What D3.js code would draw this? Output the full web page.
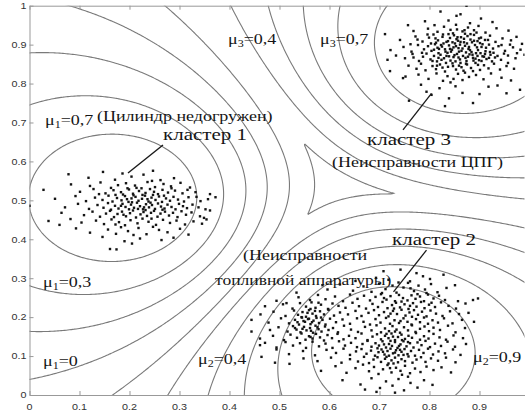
<!DOCTYPE html>
<html><head><meta charset="utf-8">
<script src="https://cdn.jsdelivr.net/npm/d3@7"></script>
<style>body{margin:0;background:#fff}</style>
</head><body>
<svg id="c" width="525" height="414"></svg>
<script>
// ---------- data ----------
const xTickValues=[0,0.1,0.2,0.3,0.4,0.5,0.6,0.7,0.8,0.9];
const xTickLabels=["0","0.1","0.2","0.3","0.4","0.5","0.6","0.7","0.8","0.9"];
const yTickValues=[0,0.1,0.2,0.3,0.4,0.5,0.6,0.7,0.8,0.9,1];
const yTickLabels=["0","0.1","0.2","0.3","0.4","0.5","0.6","0.7","0.8","0.9","1"];
const clusterCenters=[[0.2,0.5],[0.71,0.14],[0.85,0.875]];
const contourLevels=[0.4,0.5,0.6,0.7,0.8,0.9];
const fuzzifier=2;
const clusterNames=["кластер 1","кластер 2","кластер 3"];
const clusterNotes=["(Цилиндр недогружен)","(Неисправности","топливной аппаратуры)","(Неисправности ЦПГ)"];
const muLabels=[["1","=0,7"],["1","=0,3"],["1","=0"],["3","=0,4"],["3","=0,7"],["2","=0,4"],["2","=0,9"]];

const cluster1=[[0.078,0.567],[0.147,0.573],[0.247,0.576],[0.118,0.558],[0.171,0.553],[0.204,0.561],[0.228,0.566],[0.262,0.552],[0.289,0.557],[0.186,0.569],
[0.083,0.541],[0.121,0.537],[0.142,0.546],[0.163,0.532],[0.193,0.544],[0.211,0.538],[0.236,0.547],[0.251,0.534],[0.268,0.542],[0.283,0.536],[0.302,0.545],[0.321,0.533],[0.177,0.539],[0.224,0.531],[0.245,0.55],[0.196,0.531],
[0.028,0.527],[0.101,0.522],[0.128,0.529],[0.152,0.518],[0.168,0.526],[0.183,0.521],[0.199,0.528],[0.207,0.517],[0.219,0.524],[0.232,0.519],[0.241,0.529],[0.257,0.516],[0.266,0.527],[0.277,0.52],[0.291,0.525],[0.306,0.518],[0.316,0.527],[0.332,0.521],[0.361,0.516],[0.187,0.515],[0.226,0.514],[0.249,0.522],[0.284,0.531],[0.139,0.516],[0.214,0.532],
[0.051,0.504],[0.092,0.511],[0.113,0.498],[0.131,0.507],[0.146,0.501],[0.158,0.512],[0.166,0.497],[0.175,0.506],[0.184,0.5],[0.191,0.511],[0.198,0.496],[0.204,0.505],[0.212,0.509],[0.218,0.499],[0.225,0.504],[0.231,0.512],[0.238,0.497],[0.244,0.507],[0.252,0.501],[0.259,0.51],[0.265,0.496],[0.273,0.505],[0.281,0.499],[0.288,0.509],[0.297,0.502],[0.309,0.497],[0.318,0.508],[0.334,0.509],[0.342,0.498],[0.357,0.503],[0.372,0.508],[0.172,0.514],[0.208,0.513],[0.247,0.514],[0.236,0.503],[0.195,0.503],[0.269,0.512],
[0.0,0.486],[0.071,0.482],[0.097,0.491],[0.119,0.478],[0.136,0.488],[0.148,0.481],[0.157,0.493],[0.163,0.476],[0.171,0.486],[0.178,0.479],[0.186,0.491],[0.192,0.483],[0.199,0.477],[0.203,0.489],[0.209,0.481],[0.215,0.494],[0.221,0.485],[0.227,0.477],[0.233,0.49],[0.239,0.482],[0.245,0.488],[0.251,0.478],[0.257,0.492],[0.263,0.484],[0.27,0.479],[0.276,0.489],[0.284,0.483],[0.292,0.477],[0.299,0.491],[0.307,0.485],[0.315,0.48],[0.326,0.489],[0.338,0.482],[0.352,0.477],[0.183,0.486],[0.217,0.478],[0.242,0.494],[0.266,0.476],[0.205,0.495],[0.229,0.482],
[0.064,0.468],[0.109,0.462],[0.126,0.471],[0.141,0.458],[0.153,0.466],[0.161,0.473],[0.169,0.457],[0.176,0.465],[0.185,0.471],[0.193,0.459],[0.201,0.467],[0.207,0.474],[0.213,0.456],[0.222,0.464],[0.228,0.47],[0.235,0.46],[0.243,0.468],[0.249,0.473],[0.256,0.458],[0.262,0.466],[0.271,0.471],[0.279,0.461],[0.287,0.468],[0.296,0.457],[0.304,0.472],[0.313,0.463],[0.324,0.469],[0.341,0.459],[0.349,0.455],[0.361,0.474],[0.188,0.463],[0.232,0.475],
[0.038,0.447],[0.06,0.437],[0.082,0.452],[0.104,0.443],[0.133,0.448],[0.149,0.439],[0.164,0.451],[0.179,0.444],[0.191,0.436],[0.202,0.449],[0.216,0.441],[0.226,0.453],[0.238,0.445],[0.253,0.437],[0.267,0.45],[0.281,0.442],[0.294,0.448],[0.311,0.438],[0.328,0.446],[0.345,0.44],[0.354,0.451],[0.172,0.438],[0.244,0.453],
[0.093,0.428],[0.121,0.417],[0.157,0.425],[0.173,0.414],[0.197,0.421],[0.218,0.429],[0.234,0.413],[0.259,0.424],[0.276,0.418],[0.301,0.427],[0.318,0.412],[0.183,0.431],[0.208,0.411],[0.247,0.432],
[0.161,0.375],[0.174,0.374],[0.19,0.395],[0.221,0.402],[0.264,0.398],[0.146,0.406],[0.288,0.404],[0.205,0.389]];

const cluster2=[[0.774,0.313],[0.787,0.305],[0.718,0.296],[0.742,0.322],[0.693,0.301],[0.761,0.292],[0.801,0.298],[0.652,0.293],[0.828,0.309],[0.708,0.318],
[0.534,0.263],[0.596,0.271],[0.621,0.284],[0.647,0.268],[0.668,0.279],[0.684,0.265],[0.699,0.286],[0.712,0.272],[0.726,0.281],[0.734,0.263],[0.748,0.276],[0.757,0.288],[0.769,0.267],[0.778,0.281],[0.791,0.271],[0.803,0.285],[0.816,0.264],[0.834,0.275],[0.851,0.282],[0.738,0.289],[0.762,0.274],[0.705,0.262],[0.586,0.282],[0.794,0.262],
[0.494,0.242],[0.514,0.236],[0.538,0.251],[0.561,0.244],[0.577,0.257],[0.592,0.246],[0.611,0.253],[0.627,0.241],[0.641,0.258],[0.656,0.247],[0.669,0.255],[0.681,0.243],[0.692,0.252],[0.703,0.259],[0.714,0.245],[0.722,0.254],[0.731,0.241],[0.739,0.257],[0.747,0.249],[0.756,0.243],[0.764,0.256],[0.772,0.247],[0.781,0.253],[0.789,0.241],[0.797,0.258],[0.808,0.248],[0.819,0.255],[0.831,0.244],[0.857,0.241],[0.887,0.244],[0.897,0.248],[0.744,0.24],[0.776,0.259],[0.709,0.249],
[0.471,0.228],[0.507,0.233],[0.526,0.222],[0.541,0.236],[0.553,0.227],[0.564,0.238],[0.572,0.224],[0.583,0.232],[0.597,0.221],[0.606,0.235],[0.618,0.229],[0.632,0.224],[0.646,0.237],[0.659,0.228],[0.673,0.222],[0.686,0.234],[0.697,0.226],[0.706,0.239],[0.716,0.223],[0.725,0.231],[0.733,0.237],[0.741,0.225],[0.75,0.233],[0.758,0.221],[0.767,0.236],[0.774,0.227],[0.783,0.239],[0.79,0.223],[0.799,0.232],[0.811,0.226],[0.823,0.238],[0.838,0.229],[0.853,0.222],[0.872,0.235],[0.562,0.221],[0.578,0.237],[0.761,0.229],[0.729,0.222],[0.804,0.237],
[0.462,0.207],[0.488,0.214],[0.512,0.203],[0.529,0.217],[0.537,0.206],[0.546,0.213],[0.553,0.201],[0.559,0.218],[0.566,0.209],[0.573,0.203],[0.581,0.215],[0.589,0.207],[0.598,0.219],[0.609,0.204],[0.621,0.212],[0.637,0.207],[0.652,0.216],[0.664,0.203],[0.678,0.211],[0.689,0.218],[0.699,0.205],[0.709,0.213],[0.718,0.202],[0.727,0.216],[0.735,0.208],[0.744,0.219],[0.752,0.204],[0.76,0.212],[0.769,0.218],[0.777,0.206],[0.785,0.214],[0.794,0.202],[0.802,0.217],[0.813,0.209],[0.826,0.203],[0.841,0.215],[0.859,0.208],[0.878,0.211],[0.556,0.211],[0.571,0.216],[0.544,0.2],[0.765,0.201],[0.722,0.209],
[0.444,0.193],[0.478,0.186],[0.503,0.197],[0.519,0.184],[0.531,0.193],[0.539,0.181],[0.545,0.199],[0.551,0.188],[0.557,0.195],[0.562,0.182],[0.568,0.191],[0.574,0.198],[0.579,0.185],[0.586,0.193],[0.592,0.181],[0.601,0.196],[0.613,0.187],[0.626,0.194],[0.641,0.183],[0.655,0.197],[0.668,0.188],[0.681,0.181],[0.692,0.195],[0.702,0.186],[0.713,0.198],[0.721,0.183],[0.73,0.192],[0.739,0.185],[0.748,0.197],[0.756,0.188],[0.764,0.181],[0.773,0.195],[0.781,0.187],[0.789,0.199],[0.797,0.183],[0.806,0.192],[0.817,0.186],[0.829,0.197],[0.846,0.184],[0.865,0.193],[0.889,0.188],[0.548,0.19],[0.565,0.187],[0.583,0.199],[0.559,0.196],[0.536,0.187],[0.742,0.19],
[0.444,0.163],[0.481,0.167],[0.498,0.174],[0.516,0.163],[0.527,0.177],[0.534,0.168],[0.542,0.161],[0.549,0.175],[0.554,0.166],[0.561,0.172],[0.567,0.16],[0.572,0.178],[0.578,0.169],[0.584,0.163],[0.591,0.176],[0.598,0.167],[0.607,0.172],[0.617,0.161],[0.629,0.178],[0.643,0.168],[0.657,0.162],[0.671,0.175],[0.684,0.166],[0.694,0.179],[0.703,0.161],[0.711,0.171],[0.719,0.164],[0.726,0.177],[0.734,0.168],[0.741,0.16],[0.749,0.174],[0.757,0.166],[0.765,0.179],[0.772,0.162],[0.781,0.17],[0.79,0.176],[0.799,0.164],[0.808,0.173],[0.821,0.167],[0.837,0.178],[0.852,0.161],[0.871,0.172],[0.546,0.17],[0.563,0.165],[0.576,0.174],[0.531,0.172],[0.731,0.163],
[0.461,0.145],[0.487,0.152],[0.509,0.141],[0.522,0.155],[0.535,0.147],[0.544,0.158],[0.552,0.142],[0.559,0.151],[0.566,0.145],[0.573,0.157],[0.581,0.148],[0.589,0.14],[0.596,0.154],[0.605,0.146],[0.616,0.157],[0.628,0.143],[0.639,0.152],[0.652,0.146],[0.664,0.158],[0.676,0.141],[0.686,0.15],[0.695,0.156],[0.703,0.143],[0.711,0.152],[0.718,0.146],[0.724,0.158],[0.731,0.141],[0.737,0.149],[0.744,0.155],[0.751,0.144],[0.758,0.152],[0.765,0.147],[0.773,0.159],[0.781,0.142],[0.789,0.151],[0.798,0.145],[0.808,0.157],[0.82,0.148],[0.833,0.142],[0.848,0.153],[0.867,0.146],[0.562,0.149],[0.727,0.15],[0.714,0.157],[0.745,0.141],
[0.471,0.134],[0.461,0.128],[0.494,0.122],[0.512,0.136],[0.527,0.127],[0.541,0.133],[0.553,0.121],[0.566,0.137],[0.579,0.125],[0.592,0.132],[0.606,0.121],[0.619,0.138],[0.631,0.127],[0.643,0.134],[0.655,0.123],[0.666,0.131],[0.676,0.139],[0.684,0.124],[0.692,0.133],[0.699,0.127],[0.706,0.138],[0.713,0.122],[0.719,0.131],[0.725,0.126],[0.731,0.136],[0.736,0.121],[0.742,0.13],[0.748,0.138],[0.754,0.125],[0.761,0.133],[0.768,0.122],[0.776,0.135],[0.784,0.128],[0.792,0.139],[0.801,0.123],[0.811,0.132],[0.823,0.126],[0.836,0.137],[0.851,0.124],[0.873,0.131],[0.709,0.13],[0.722,0.139],[0.739,0.126],[0.757,0.136],[0.696,0.12],
[0.464,0.098],[0.494,0.117],[0.519,0.105],[0.547,0.113],[0.571,0.102],[0.594,0.116],[0.613,0.108],[0.628,0.119],[0.641,0.103],[0.653,0.112],[0.664,0.118],[0.674,0.106],[0.683,0.114],[0.691,0.101],[0.698,0.11],[0.704,0.117],[0.71,0.104],[0.716,0.113],[0.722,0.119],[0.727,0.107],[0.733,0.115],[0.738,0.102],[0.744,0.111],[0.75,0.118],[0.756,0.105],[0.763,0.113],[0.771,0.101],[0.779,0.116],[0.788,0.108],[0.797,0.119],[0.807,0.104],[0.818,0.112],[0.831,0.107],[0.847,0.117],[0.862,0.103],[0.719,0.101],[0.731,0.109],[0.741,0.116],[0.707,0.111],[0.748,0.103],
[0.491,0.083],[0.52,0.08],[0.548,0.094],[0.576,0.087],[0.603,0.096],[0.624,0.083],[0.641,0.092],[0.657,0.086],[0.669,0.098],[0.679,0.082],[0.688,0.091],[0.696,0.097],[0.703,0.085],[0.711,0.093],[0.718,0.081],[0.724,0.089],[0.731,0.096],[0.737,0.084],[0.744,0.092],[0.751,0.087],[0.758,0.099],[0.766,0.083],[0.774,0.091],[0.783,0.097],[0.792,0.085],[0.803,0.094],[0.817,0.088],[0.833,0.096],[0.852,0.084],[0.714,0.098],[0.728,0.081],
[0.583,0.062],[0.612,0.074],[0.634,0.057],[0.652,0.069],[0.667,0.078],[0.679,0.061],[0.689,0.072],[0.698,0.054],[0.707,0.066],[0.716,0.077],[0.724,0.058],[0.733,0.07],[0.742,0.062],[0.751,0.075],[0.761,0.056],[0.771,0.068],[0.782,0.059],[0.794,0.073],[0.808,0.064],[0.824,0.071],[0.843,0.058],[0.721,0.069],[0.745,0.052],
[0.626,0.038],[0.662,0.027],[0.684,0.043],[0.701,0.018],[0.713,0.035],[0.726,0.024],[0.738,0.041],[0.749,0.012],[0.762,0.031],[0.776,0.019],[0.789,0.038],[0.806,0.026],[0.694,0.008],[0.757,0.047],[0.731,0.006],[0.671,0.014]];

const cluster3=[[0.874,1.0],[0.854,0.974],[0.862,0.978],[0.791,0.96],[0.81,0.95],[0.757,0.95],[0.838,0.962],[0.903,0.967],[0.881,0.955],[0.926,0.958],[0.822,0.985],
[0.711,0.927],[0.768,0.935],[0.797,0.941],[0.816,0.933],[0.829,0.946],[0.842,0.938],[0.853,0.951],[0.866,0.934],[0.877,0.944],[0.889,0.937],[0.898,0.948],[0.912,0.931],[0.934,0.942],[0.958,0.936],[0.974,0.92],[0.847,0.929],[0.871,0.928],
[0.741,0.912],[0.772,0.921],[0.786,0.908],[0.799,0.918],[0.808,0.926],[0.817,0.911],[0.826,0.92],[0.834,0.907],[0.841,0.917],[0.849,0.924],[0.857,0.91],[0.863,0.919],[0.869,0.906],[0.876,0.922],[0.882,0.913],[0.889,0.925],[0.896,0.909],[0.903,0.918],[0.911,0.912],[0.921,0.923],[0.932,0.907],[0.946,0.916],[0.963,0.911],[0.813,0.905],[0.854,0.914],[0.885,0.906],[0.838,0.927],
[0.722,0.886],[0.748,0.894],[0.764,0.882],[0.777,0.899],[0.789,0.888],[0.797,0.896],[0.804,0.884],[0.811,0.901],[0.819,0.889],[0.825,0.895],[0.832,0.882],[0.839,0.898],[0.845,0.887],[0.851,0.903],[0.858,0.891],[0.864,0.884],[0.871,0.897],[0.878,0.889],[0.884,0.881],[0.891,0.899],[0.897,0.886],[0.904,0.894],[0.912,0.883],[0.919,0.9],[0.927,0.89],[0.938,0.896],[0.951,0.884],[0.967,0.893],[0.982,0.887],[0.828,0.903],[0.861,0.9],[0.873,0.88],[0.816,0.892],[0.848,0.893],[0.901,0.904],
[0.716,0.861],[0.733,0.872],[0.751,0.865],[0.766,0.876],[0.779,0.858],[0.787,0.869],[0.794,0.877],[0.802,0.862],[0.809,0.871],[0.815,0.857],[0.822,0.874],[0.829,0.865],[0.836,0.879],[0.842,0.859],[0.848,0.868],[0.855,0.876],[0.861,0.862],[0.867,0.871],[0.874,0.858],[0.88,0.875],[0.887,0.866],[0.893,0.878],[0.899,0.86],[0.906,0.87],[0.914,0.863],[0.922,0.874],[0.931,0.867],[0.943,0.861],[0.957,0.872],[0.972,0.865],[0.99,0.874],[0.852,0.857],[0.818,0.866],[0.877,0.869],[0.839,0.87],[0.896,0.871],
[0.721,0.832],[0.747,0.814],[0.758,0.846],[0.774,0.838],[0.783,0.851],[0.792,0.834],[0.806,0.845],[0.813,0.837],[0.821,0.849],[0.831,0.831],[0.837,0.843],[0.846,0.852],[0.853,0.836],[0.859,0.846],[0.868,0.833],[0.875,0.849],[0.883,0.84],[0.892,0.853],[0.901,0.835],[0.909,0.847],[0.918,0.839],[0.929,0.851],[0.941,0.836],[0.954,0.845],[0.969,0.838],[0.826,0.841],[0.862,0.853],[0.887,0.832],
[0.752,0.818],[0.778,0.823],[0.798,0.812],[0.814,0.826],[0.827,0.807],[0.836,0.819],[0.848,0.812],[0.857,0.825],[0.866,0.809],[0.879,0.817],[0.893,0.822],[0.908,0.811],[0.923,0.826],[0.944,0.815],[0.963,0.808],[0.842,0.803],[0.871,0.828],
[0.794,0.779],[0.804,0.771],[0.759,0.756],[0.887,0.75],[0.954,0.775],[0.981,0.784],[0.82,0.788],[0.839,0.762],[0.852,0.793],[0.866,0.776],[0.918,0.792],[0.783,0.797],[0.9,0.773],[0.831,0.742],[0.936,0.795],
[0.803,0.903],[0.809,0.887],[0.812,0.916],[0.818,0.878],[0.823,0.899],[0.827,0.926],[0.831,0.888],[0.834,0.871],[0.837,0.909],[0.843,0.882],[0.846,0.906],[0.85,0.873],[0.853,0.896],[0.856,0.919],[0.859,0.882],[0.862,0.907],[0.866,0.89],[0.869,0.915],[0.872,0.866],[0.875,0.903],[0.879,0.894],[0.882,0.927],[0.886,0.874],[0.889,0.91],[0.892,0.864],[0.895,0.893],[0.899,0.916],[0.902,0.878],[0.906,0.901],[0.909,0.869],[0.913,0.892],[0.917,0.912],[0.921,0.881],[0.925,0.857],[0.806,0.858],[0.815,0.846],[0.824,0.861],[0.833,0.853],[0.841,0.889],[0.847,0.845],[0.858,0.867],[0.864,0.842],[0.873,0.851],[0.881,0.886],[0.888,0.859],[0.897,0.848],[0.904,0.858],[0.911,0.876],[0.919,0.866],[0.928,0.879],[0.936,0.871],[0.944,0.899],[0.949,0.877],[0.796,0.926],[0.785,0.879],[0.776,0.913],[0.768,0.867],[0.762,0.901],[0.957,0.853],[0.961,0.9],[0.975,0.878],[0.985,0.902],[0.87,0.937],[0.855,0.939],[0.894,0.931]];

// ---------- drawing ----------
const svg=d3.select("#c");
const L=29.5,R=524.5,T=5.7,B=395;
const xs=d3.scaleLinear().domain([0,0.99]).range([L,R]);
const ys=d3.scaleLinear().domain([0,1]).range([B,T]);
const SERIF="'Liberation Serif','Times New Roman',serif";
const SANS="'Liberation Sans',Arial,sans-serif";
const SX=1.2;

svg.append("rect").attr("width",525).attr("height",414).attr("fill","#fff");
svg.append("defs").append("clipPath").attr("id","clip").append("rect")
  .attr("x",L).attr("y",T).attr("width",R-L).attr("height",B-T);

// fuzzy membership field (max over clusters)
const gx0=-0.06,gx1=1.06,gy0=-0.06,gy1=1.06,nx=340,ny=340;
const dxg=(gx1-gx0)/nx, dyg=(gy1-gy0)/ny;
const vals=new Float64Array(nx*ny);
const pw=1/(fuzzifier-1);
for(let j=0;j<ny;j++){
  const py=gy0+(j+0.5)*dyg;
  for(let i=0;i<nx;i++){
    const px=gx0+(i+0.5)*dxg;
    const d2=clusterCenters.map(c=>(px-c[0])**2+(py-c[1])**2+1e-12);
    let mx=0;
    for(let k=0;k<d2.length;k++){
      let s=0; for(let l=0;l<d2.length;l++) s+=Math.pow(d2[k]/d2[l],pw);
      mx=Math.max(mx,1/s);
    }
    vals[j*nx+i]=mx;
  }
}
const contours=d3.contours().size([nx,ny]).thresholds(contourLevels)(vals);
const proj=d3.geoTransform({point(x,y){this.stream.point(xs(gx0+x*dxg),ys(gy0+y*dyg));}});
const path=d3.geoPath(proj);
svg.append("g").attr("clip-path","url(#clip)")
  .selectAll("path").data(contours).join("path")
  .attr("d",path).attr("fill","none").attr("stroke","#7a7a7a").attr("stroke-width",1.1);

// axes
const AX="#999";
const gB=svg.append("g").attr("transform",`translate(0,${B})`)
  .call(d3.axisBottom(xs).tickValues(xTickValues).tickSizeInner(-4).tickSizeOuter(0).tickFormat(""));
const gT=svg.append("g").attr("transform",`translate(0,${T})`)
  .call(d3.axisTop(xs).tickValues(xTickValues).tickSizeInner(-4).tickSizeOuter(0).tickFormat(""));
const gL=svg.append("g").attr("transform",`translate(${L},0)`)
  .call(d3.axisLeft(ys).tickValues(yTickValues).tickSizeInner(-4).tickSizeOuter(0).tickFormat(""));
[gB,gT,gL].forEach(g=>{g.selectAll("path,line").attr("stroke",AX);});

// tick labels
xTickValues.forEach((v,i)=>{
  svg.append("text").attr("transform",`translate(${xs(v)},410) scale(${SX},1)`)
    .attr("text-anchor","middle").attr("font-family",SANS).attr("font-size",9)
    .attr("fill","#333").text(xTickLabels[i]);
});
yTickValues.forEach((v,i)=>{
  svg.append("text").attr("transform",`translate(26.5,${ys(v)+3.3}) scale(${SX},1)`)
    .attr("text-anchor","end").attr("font-family",SANS).attr("font-size",9)
    .attr("fill","#333").text(yTickLabels[i]);
});

// points
const pts=svg.append("g").attr("clip-path","url(#clip)");
[cluster1,cluster2,cluster3].forEach(arr=>{
  pts.selectAll(null).data(arr).join("rect")
    .attr("x",d=>xs(d[0])-1.2).attr("y",d=>ys(d[1])-1.2)
    .attr("width",2.4).attr("height",2.4).attr("fill","#141414");
});

// annotations
const ann=svg.append("g");
function txt(x,y,s,size){
  return ann.append("text").attr("transform",`translate(${xs(x)},${ys(y)}) scale(${SX},1)`)
    .attr("font-family",SERIF).attr("font-size",size).attr("fill","#151515").text(s);
}
function mu(x,y,lab){
  const t=ann.append("text").attr("transform",`translate(${xs(x)},${ys(y)}) scale(${SX},1)`)
    .attr("font-family",SERIF).attr("font-size",15).attr("fill","#151515");
  t.append("tspan").text("μ");
  t.append("tspan").attr("dy",3).attr("font-size",10).text(lab[0]);
  t.append("tspan").attr("dy",-3).text(lab[1]);
}
function leader(x1,y1,x2,y2){
  ann.append("line").attr("x1",xs(x1)).attr("y1",ys(y1)).attr("x2",xs(x2)).attr("y2",ys(y2))
    .attr("stroke","#1a1a1a").attr("stroke-width",1.3);
}
mu(0.031,0.694,muLabels[0]);
mu(0.027,0.277,muLabels[1]);
mu(0.027,0.0745,muLabels[2]);
mu(0.397,0.9016,muLabels[3]);
mu(0.581,0.9016,muLabels[4]);
mu(0.337,0.0796,muLabels[5]);
mu(0.887,0.0848,muLabels[6]);
txt(0.135,0.704,clusterNotes[0],15);
txt(0.267,0.655,clusterNames[0],17.5);
leader(0.267,0.642,0.197,0.570);
txt(0.675,0.642,clusterNames[2],17.5);
leader(0.747,0.681,0.804,0.775);
txt(0.605,0.586,clusterNotes[3],15);
txt(0.725,0.385,clusterNames[1],17.5);
leader(0.794,0.372,0.728,0.265);
txt(0.427,0.347,clusterNotes[1],15);
txt(0.371,0.283,clusterNotes[2],14.6);
</script>
</body></html>
